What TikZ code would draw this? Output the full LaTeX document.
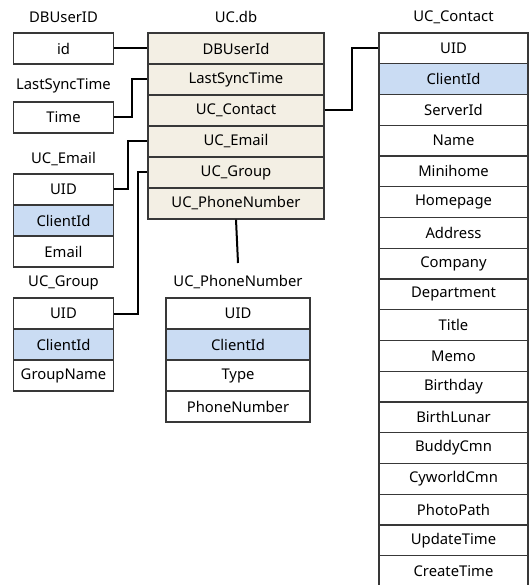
\documentclass[tikz,border=0pt]{standalone}
\usepackage{fontspec}
\setmainfont{Noto Sans}
\begin{document}
\begin{tikzpicture}[x=1pt,y=-1pt,
  font=\fontsize{14.8}{16}\selectfont,
  cell/.style={draw=black!78, line width=1.1pt, rectangle, inner sep=0pt, minimum height=31pt, fill=white},
  leftcell/.style={cell, minimum width=100pt},
  dbcell/.style={cell, minimum width=176pt, fill=dbfill},
  ctcell/.style={cell, minimum width=149pt, minimum height=30.75pt},
  phcell/.style={cell, minimum width=144pt},
  key/.style={fill=keyblue},
  title/.style={inner sep=0pt},
  link/.style={line width=2pt, black}]
\definecolor{dbfill}{HTML}{F3EFE4}
\definecolor{keyblue}{HTML}{CADCF3}
\useasboundingbox (0,0) rectangle (529,585);
\fill[white] (0,0) rectangle (529,585);
\clip (0,0) rectangle (529,585);
% titles
\node[title] (tDB) at (63.5,17) {DBUserID};
\node[title] (tLS) at (63.5,86) {LastSyncTime};
\node[title] (tEM) at (63.5,159) {UC\_Email};
\node[title] (tGR) at (63.5,283) {UC\_Group};
\node[title] (tUC) at (236,17) {UC.db};
\node[title] (tPH) at (238,282) {UC\_PhoneNumber};
\node[title] (tCT) at (453.5,17) {UC\_Contact};
% left boxes
\node[leftcell] (id) at (63.5,48.5) {id};
\node[leftcell] (time) at (63.5,117.5) {Time};
\node[leftcell] (em1) at (63.5,189.5) {UID};
\node[leftcell,key] (em2) at (63.5,220.5) {ClientId};
\node[leftcell] (em3) at (63.5,251.5) {Email};
\node[leftcell] (gr1) at (63.5,313.5) {UID};
\node[leftcell,key] (gr2) at (63.5,344.5) {ClientId};
\node[leftcell] (gr3) at (63.5,375.5) {GroupName};
% UC.db
\node[dbcell] (db1) at (236,48.5) {DBUserId};
\node[dbcell] (db2) at (236,79.5) {LastSyncTime};
\node[dbcell] (db3) at (236,110.5) {UC\_Contact};
\node[dbcell] (db4) at (236,141.5) {UC\_Email};
\node[dbcell] (db5) at (236,172.5) {UC\_Group};
\node[dbcell] (db6) at (236,203.5) {UC\_PhoneNumber};
% phone
\node[phcell] (ph1) at (238,313.5) {UID};
\node[phcell,key] (ph2) at (238,344.5) {ClientId};
\node[phcell] (ph3) at (238,375.5) {Type};
\node[phcell] (ph4) at (238,406.5) {PhoneNumber};
% contact
\foreach \t [count=\i] in {UID,ClientId,ServerId,Name,Minihome,Homepage,Address,Company,Department,Title,Memo,Birthday,BirthLunar,BuddyCmn,CyworldCmn,PhotoPath,UpdateTime,CreateTime}{
  \ifnum\i=2
    \node[ctcell,key] (ct\i) at (453.5,{33+15.375+(\i-1)*30.75}) {\t};
  \else
    \node[ctcell] (ct\i) at (453.5,{33+15.375+(\i-1)*30.75}) {\t};
  \fi
}
% connectors
\coordinate (phEnd) at (238,263);
\draw[link] (id.east) -- (db1.west);
\draw[link] (time.east) -- ++(18,0) |- (db2.west);
\draw[link] (em1.east) -- ++(14,0) |- (db4.west);
\draw[link] (gr1.east) -- ++(24,0) |- (db5.west);
\draw[link] (db3.east) -- ++(27,0) |- (ct1.west);
\draw[link] (db6.south) -- (phEnd);
\end{tikzpicture}
\end{document}
